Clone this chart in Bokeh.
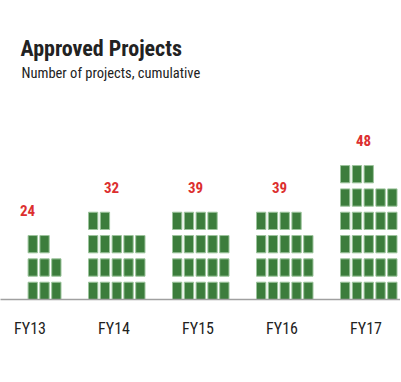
from bokeh.plotting import figure
from bokeh.models import Range1d, FixedTicker
from bokeh.core.properties import value
from bokeh.embed import file_html
from bokeh.resources import INLINE

# ---- data ----
categories = ["FY13", "FY14", "FY15", "FY16", "FY17"]
values = [24, 32, 39, 39, 48]
squares = [8, 17, 19, 19, 28]      # icons drawn per year
columns = [3, 5, 5, 5, 5]          # icons per row in each year
title = "Approved Projects"
subtitle = "Number of projects, cumulative"

# ---- layout / style constants ----
NARROW = "Roboto Condensed, DejaVu Sans Condensed, Roboto, sans-serif"
W, H = 400, 381
FRAME_H = 299
GRID_X0 = 4.0
GROUP_PITCH = 84.0
MAX_COLS = 5
COL_PITCH = 11.8
SQ_W = 9.3
ROW_PITCH = 23.33
SQ_H = 17.3
LABEL_GAP = 25.0
FILL = "#3c7d3c"
EDGE = "#9cc49c"
RED = "#dc2f2f"
TEXT = "#222222"

left, right, bottom, top = [], [], [], []
tick_pos, lab_x, lab_y = [], [], []
for i, (n, ncol) in enumerate(zip(squares, columns)):
    gx = GRID_X0 + i * GROUP_PITCH
    start = MAX_COLS - ncol
    for k in range(n):
        r, c = divmod(k, ncol)
        x0 = gx + (start + c) * COL_PITCH
        y0 = r * ROW_PITCH
        left.append(x0); right.append(x0 + SQ_W)
        bottom.append(y0); top.append(y0 + SQ_H)
    nrows = (n + ncol - 1) // ncol
    tick_pos.append(gx + 25.5)
    lab_x.append(gx + 23.0)
    lab_y.append((nrows - 1) * ROW_PITCH + SQ_H + LABEL_GAP)

p = figure(width=W, height=H, output_backend="svg", toolbar_location=None,
           x_range=Range1d(0, W), y_range=Range1d(0, FRAME_H),
           y_axis_location=None, min_border_left=0, min_border_right=0,
           min_border_top=0, min_border_bottom=H - FRAME_H)
p.outline_line_color = None
p.xgrid.visible = False
p.ygrid.visible = False
p.background_fill_color = "white"
p.border_fill_color = "white"

p.quad(left=left, right=right, bottom=bottom, top=top,
       fill_color=FILL, line_color=EDGE, line_width=1)

p.text(x=lab_x, y=lab_y, text=[str(v) for v in values],
       text_font=value(NARROW), text_font_size="15px", text_font_style="bold",
       text_color=RED, text_align="center", text_baseline="alphabetic")

p.text(x=[20], y=[FRAME_H - 47.5], text=[title], text_font=value(NARROW),
       text_font_size="22px", text_font_style="bold", text_color=TEXT,
       text_baseline="alphabetic")
p.text(x=[21], y=[FRAME_H - 72.5], text=[subtitle], text_font=value(NARROW),
       text_font_size="14.5px", text_color=TEXT, text_baseline="alphabetic")

ax = p.xaxis[0]
ax.ticker = FixedTicker(ticks=tick_pos)
ax.major_label_overrides = {t: c for t, c in zip(tick_pos, categories)}
ax.major_tick_line_color = None
ax.minor_tick_line_color = None
ax.axis_line_color = "#a0a0a0"
ax.axis_line_width = 1.5
ax.major_label_standoff = 13
ax.major_label_text_font = NARROW
ax.major_label_text_font_size = "16px"
ax.major_label_text_color = TEXT

open("out.html", "w").write(file_html(p, INLINE))
